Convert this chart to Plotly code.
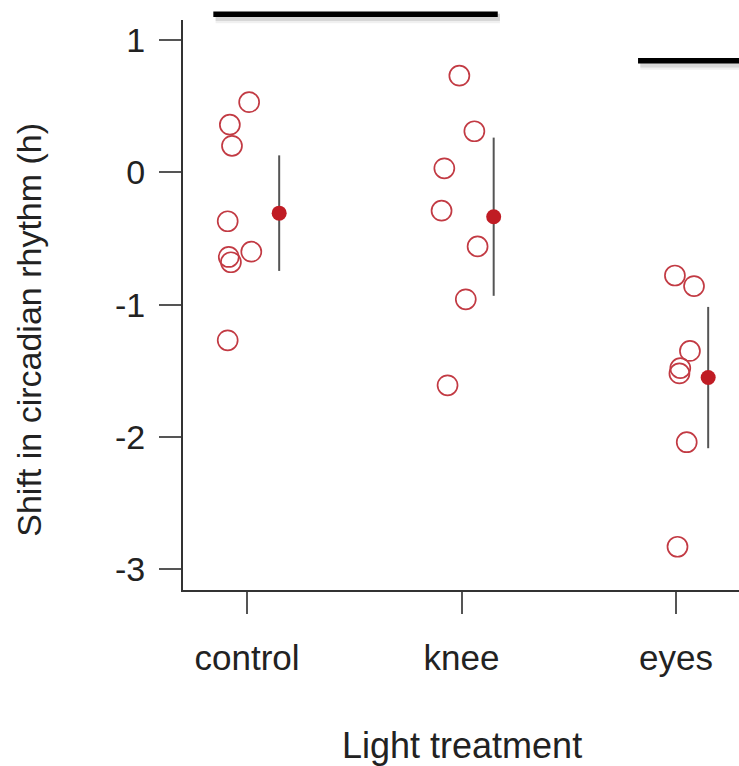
import numpy as np
import plotly.graph_objects as go

# Phase shift (h) of circadian rhythm per light treatment group
categories = ["control", "knee", "eyes"]
control = [0.53, 0.36, 0.20, -0.37, -0.60, -0.64, -0.68, -1.27]
knee = [0.73, 0.31, 0.03, -0.29, -0.56, -0.96, -1.61]
eyes = [-0.78, -0.86, -1.35, -1.48, -1.52, -2.04, -2.83]
groups = [control, knee, eyes]

# horizontal jitter of the raw points (category units)
jitter_control = [0.01, -0.08, -0.07, -0.09, 0.02, -0.085, -0.075, -0.09]
jitter_knee = [-0.01, 0.06, -0.08, -0.093, 0.075, 0.02, -0.065]
jitter_eyes = [-0.005, 0.084, 0.065, 0.02, 0.016, 0.05, 0.007]
jitters = [jitter_control, jitter_knee, jitter_eyes]

y_ticks = [1, 0, -1, -2, -3]

XRANGE = [0.7016, 3.2937]
YRANGE = [-3.157, 1.151]
MEAN_OFFSET = 0.15

RING = "#c23a43"
DOT = "#c01c24"
FONT = "Liberation Sans, Arial, Helvetica, sans-serif"

fig = go.Figure()

for i, (vals, jit) in enumerate(zip(groups, jitters)):
    pos = i + 1
    v = np.array(vals, dtype=float)
    fig.add_trace(go.Scatter(
        x=[pos + j for j in jit], y=v, mode="markers",
        marker=dict(symbol="circle-open", size=20, color=RING,
                    line=dict(width=1.7, color=RING)),
        showlegend=False, hoverinfo="y",
    ))
    mean = v.mean()
    se = v.std(ddof=1) / np.sqrt(len(v))
    xm = pos + MEAN_OFFSET
    fig.add_trace(go.Scatter(
        x=[xm, xm], y=[mean - 2 * se, mean + 2 * se], mode="lines",
        line=dict(color="#555555", width=2), showlegend=False, hoverinfo="skip",
    ))
    fig.add_trace(go.Scatter(
        x=[xm], y=[mean], mode="markers",
        marker=dict(symbol="circle", size=15, color=DOT, line=dict(width=0)),
        showlegend=False, hoverinfo="y",
    ))


def px(x):
    return (x - XRANGE[0]) / (XRANGE[1] - XRANGE[0])


def py(y):
    return (y - YRANGE[0]) / (YRANGE[1] - YRANGE[0])


# comparison bars above the groups (with a soft drop shadow)
bars = [(0.843, 2.169, 1.194), (2.823, 3.40, 0.843)]
shapes = []
for x0, x1, yv in bars:
    for dy, w, a in [(0.030, 10, 0.06), (0.024, 7, 0.10)]:
        shapes.append(dict(type="line", xref="paper", yref="paper",
                           x0=px(x0) + 0.004, x1=min(px(x1) + 0.004, 1.0),
                           y0=py(yv - dy), y1=py(yv - dy),
                           line=dict(color=f"rgba(0,0,0,{a})", width=w)))
    shapes.append(dict(type="line", xref="paper", yref="paper",
                       x0=px(x0), x1=min(px(x1), 1.0), y0=py(yv), y1=py(yv),
                       line=dict(color="black", width=5.5)))

fig.update_layout(
    width=739, height=766,
    margin=dict(l=183, r=0, t=20, b=176),
    paper_bgcolor="white", plot_bgcolor="white",
    font=dict(family=FONT, size=34, color="#222222"),
    shapes=shapes,
    xaxis=dict(
        range=XRANGE, tickmode="array", tickvals=[1, 2, 3], ticktext=categories,
        showgrid=False, zeroline=False, showline=True, linecolor="#333333",
        linewidth=2, ticks="outside", ticklen=22, tickwidth=2, tickcolor="#555555",
        tickfont=dict(size=35), ticklabelstandoff=14,
    ),
    yaxis=dict(
        range=YRANGE, tickmode="array", tickvals=y_ticks,
        ticktext=[str(t) for t in y_ticks],
        showgrid=False, zeroline=False, showline=True, linecolor="#333333",
        linewidth=2, ticks="outside", ticklen=22, tickwidth=2, tickcolor="#555555",
        tickfont=dict(size=34), ticklabelstandoff=7,
    ),
    annotations=[
        dict(text="Light treatment", xref="x", yref="paper", x=2.0,
             y=py(YRANGE[0]) - (745 - 590) / 570, xanchor="center", yanchor="middle",
             showarrow=False, font=dict(size=36)),
        dict(text="Shift in circadian rhythm (h)", xref="paper", yref="y",
             x=-(183 - 29) / 556, y=-1.19, xanchor="center", yanchor="middle",
             textangle=-90, showarrow=False, font=dict(size=34)),
    ],
)

fig.write_html("out.html")
